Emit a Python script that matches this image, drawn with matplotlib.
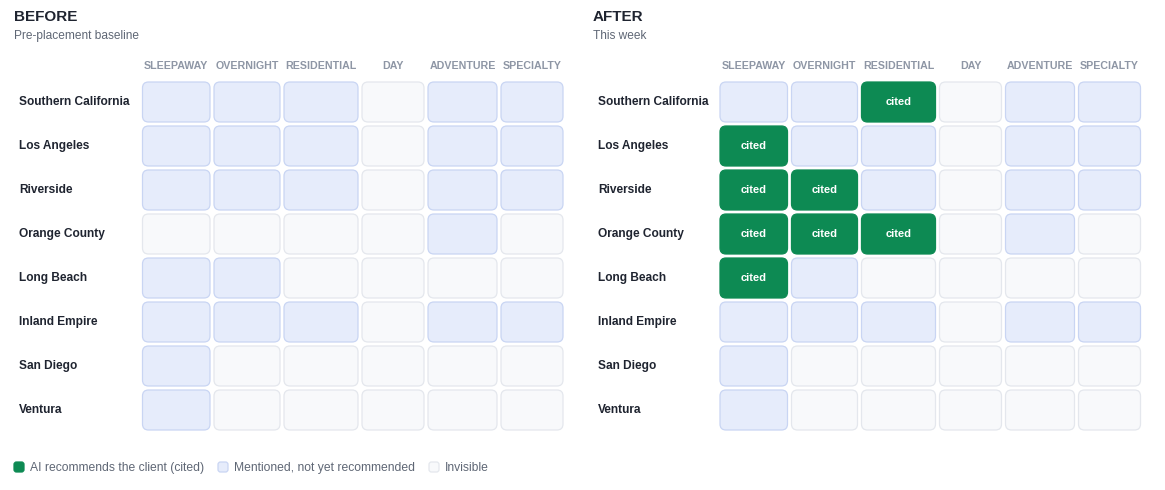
import matplotlib.pyplot as plt
from matplotlib.patches import FancyBboxPatch
import numpy as np

plt.rcParams['font.family'] = ['Liberation Sans', 'DejaVu Sans']

# Dados
regioes = ['Southern California', 'Los Angeles', 'Riverside', 'Orange County',
           'Long Beach', 'Inland Empire', 'San Diego', 'Ventura']
tipos = ['SLEEPAWAY', 'OVERNIGHT', 'RESIDENTIAL', 'DAY', 'ADVENTURE', 'SPECIALTY']

# 0 = invisible, 1 = mentioned, 2 = cited
antes = [
    [1, 1, 1, 0, 1, 1],
    [1, 1, 1, 0, 1, 1],
    [1, 1, 1, 0, 1, 1],
    [0, 0, 0, 0, 1, 0],
    [1, 1, 0, 0, 0, 0],
    [1, 1, 1, 0, 1, 1],
    [1, 0, 0, 0, 0, 0],
    [1, 0, 0, 0, 0, 0],
]
depois = [
    [1, 1, 2, 0, 1, 1],
    [2, 1, 1, 0, 1, 1],
    [2, 2, 1, 0, 1, 1],
    [2, 2, 2, 0, 1, 0],
    [2, 1, 0, 0, 0, 0],
    [1, 1, 1, 0, 1, 1],
    [1, 0, 0, 0, 0, 0],
    [1, 0, 0, 0, 0, 0],
]
paineis = [('BEFORE', 'Pre-placement baseline', antes),
           ('AFTER', 'This week', depois)]
legenda = ['AI recommends the client (cited)', 'Mentioned, not yet recommended', 'Invisible']

# Estilo
cores = {
    2: ('#0d8a53', '#0d8a53'),
    1: ('#e6ecfb', '#c9d5f3'),
    0: ('#f8f9fb', '#e4e7ed'),
}
larguras = [71.5, 70, 78, 66, 73, 66]  # largura de cada coluna (px)
gap = 4
altura_linha = 44
altura_cel = 40

fig = plt.figure(figsize=(11.65, 4.9), dpi=100)
ax = fig.add_axes([0, 0, 1, 1])
ax.set_xlim(0, 1165)
ax.set_ylim(490, 0)
ax.axis('off')

x_bordas = np.concatenate([[0], np.cumsum(larguras)])

for p, (titulo, subtitulo, grade) in enumerate(paineis):
    x0 = 14 + p * 579
    xg = 142.5 + p * 577.5
    ax.text(x0, 17, titulo, fontsize=11, fontweight='bold', color='#1f2430', va='center')
    ax.text(x0, 36, subtitulo, fontsize=8.6, color='#5f6775', va='center')

    for j, tipo in enumerate(tipos):
        xc = xg + (x_bordas[j] + x_bordas[j + 1] - gap) / 2
        ax.text(xc, 66, tipo, fontsize=7.7, fontweight='bold', color='#8e96a5',
                ha='center', va='center')

    for i, regiao in enumerate(regioes):
        y = 82 + i * altura_linha
        ax.text(x0 + 5, y + altura_cel / 2, regiao, fontsize=8.6, fontweight='bold',
                color='#1f2430', va='center')
        for j in range(len(tipos)):
            estado = grade[i][j]
            fc, ec = cores[estado]
            w = larguras[j] - gap
            ret = FancyBboxPatch((xg + x_bordas[j], y), w, altura_cel,
                                 boxstyle='round,pad=0,rounding_size=6',
                                 facecolor=fc, edgecolor=ec, linewidth=0.9)
            ax.add_patch(ret)
            if estado == 2:
                ax.text(xg + x_bordas[j] + w / 2, y + altura_cel / 2, 'cited',
                        fontsize=8, fontweight='bold', color='white',
                        ha='center', va='center')

# Legenda
lx = [14, 218, 429]
for k, texto in enumerate(legenda):
    fc, ec = cores[2 - k]
    ax.add_patch(FancyBboxPatch((lx[k], 462), 10, 10,
                                boxstyle='round,pad=0,rounding_size=2.5',
                                facecolor=fc, edgecolor=ec, linewidth=0.9))
    ax.text(lx[k] + 16, 467.5, texto, fontsize=8.7, color='#5f6775', va='center')

fig.savefig('out.png', dpi=100)
